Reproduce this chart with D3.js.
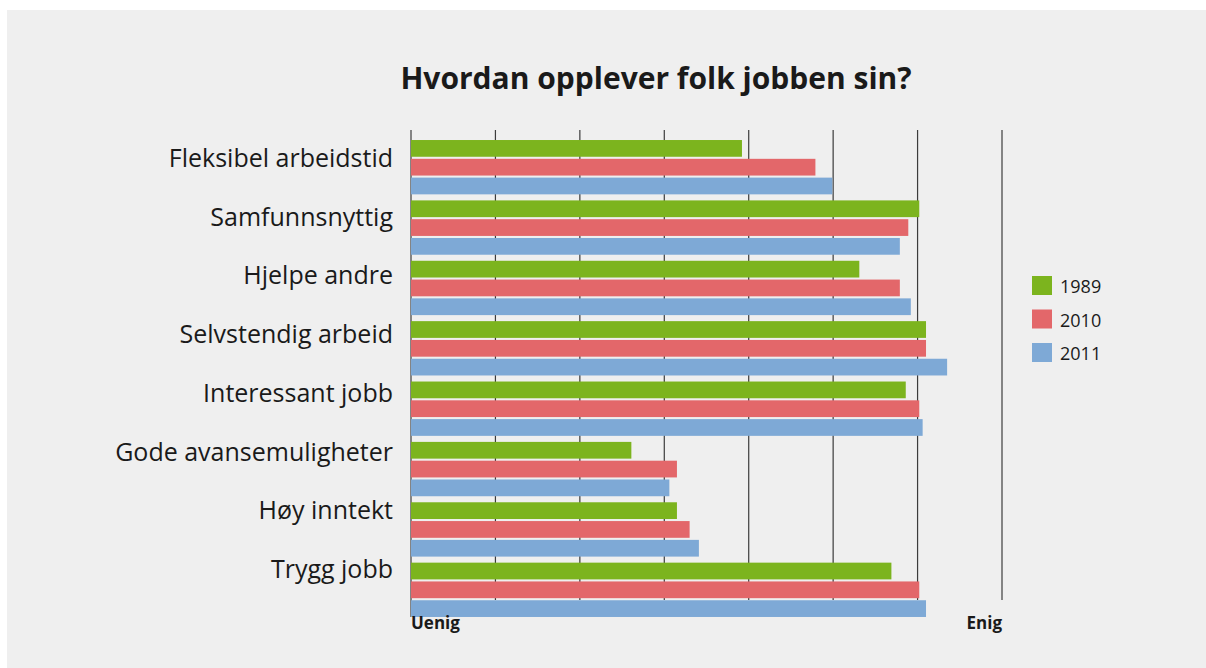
<!DOCTYPE html>
<html>
<head>
<meta charset="utf-8">
<script src="https://cdn.jsdelivr.net/npm/d3@7"></script>
<style>
	html, body { margin: 0; padding: 0; background: #fff; }
	svg { display: block; }
</style>
</head>
<body>
<svg id="chart" width="1206" height="668"></svg>
<script>
// Categories (top to bottom) and series
const categories = ['Fleksibel arbeidstid', 'Samfunnsnyttig', 'Hjelpe andre', 'Selvstendig arbeid',
	'Interessant jobb', 'Gode avansemuligheter', 'Høy inntekt', 'Trygg jobb'];
const years = ['1989', '2010', '2011'];

// values, scale 0 (Uenig) .. 7 (Enig)
const values1989 = [3.92, 6.02, 5.31, 6.10, 5.86, 2.61, 3.15, 5.69];
const values2010 = [4.79, 5.89, 5.79, 6.10, 6.02, 3.15, 3.30, 6.02];
const values2011 = [4.99, 5.79, 5.92, 6.35, 6.06, 3.06, 3.41, 6.10];

const gridTicks = [0, 1, 2, 3, 4, 5, 6, 7];
const colors = ['#7cb41e', '#e3676a', '#7ea9d6'];

const svg = d3.select('#chart');

// gray panel
svg.append('rect')
	.attr('x', 7).attr('y', 10)
	.attr('width', 1199).attr('height', 658)
	.attr('fill', '#efefef');

const x = d3.scaleLinear().domain([0, 7]).range([411, 1002]);
const y = d3.scaleBand().domain(categories).range([137, 620]).paddingInner(0.1).paddingOuter(0.05);
const ySub = d3.scaleBand().domain(years).range([0, y.bandwidth()]).paddingInner(0.11);
const yLabel = d3.scalePoint().domain(categories).range([167, 578]);
const color = d3.scaleOrdinal().domain(years).range(colors);

const rows = categories.map((c, i) => ({
	cat: c,
	vals: [values1989[i], values2010[i], values2011[i]]
}));

// title
svg.append('text')
	.attr('x', 656).attr('y', 89)
	.attr('text-anchor', 'middle')
	.attr('font-family', 'Open Sans, sans-serif')
	.attr('font-weight', 'bold')
	.attr('font-size', 30)
	.attr('fill', '#1a1a1a')
	.text('Hvordan opplever folk jobben sin?');

// gridlines
svg.append('g')
	.selectAll('line')
	.data(gridTicks)
	.join('line')
	.attr('x1', d => x(d)).attr('x2', d => x(d))
	.attr('y1', 130).attr('y2', d => d === 0 ? 617 : 600)
	.attr('stroke', '#3c3c3c')
	.attr('stroke-width', 1.2);

// bars
const groups = svg.append('g')
	.selectAll('g')
	.data(rows)
	.join('g')
	.attr('transform', d => `translate(0,${y(d.cat)})`);

groups.selectAll('rect')
	.data(d => d.vals.map((v, i) => ({ year: years[i], value: v })))
	.join('rect')
	.attr('x', x(0))
	.attr('y', d => ySub(d.year))
	.attr('width', d => x(d.value) - x(0))
	.attr('height', ySub.bandwidth())
	.attr('fill', d => color(d.year));

// category labels
svg.append('g')
	.selectAll('text')
	.data(categories)
	.join('text')
	.attr('x', 393)
	.attr('y', d => yLabel(d))
	.attr('text-anchor', 'end')
	.attr('font-family', 'Open Sans, sans-serif')
	.attr('font-size', 25)
	.attr('fill', '#1a1a1a')
	.text(d => d);

// axis end labels
svg.append('text')
	.attr('x', x(0)).attr('y', 629)
	.attr('font-family', 'Open Sans, sans-serif')
	.attr('font-weight', 'bold')
	.attr('font-size', 17)
	.attr('fill', '#1a1a1a')
	.text('Uenig');
svg.append('text')
	.attr('x', x(7)).attr('y', 629)
	.attr('text-anchor', 'end')
	.attr('font-family', 'Open Sans, sans-serif')
	.attr('font-weight', 'bold')
	.attr('font-size', 17)
	.attr('fill', '#1a1a1a')
	.text('Enig');

// legend
const legend = svg.append('g')
	.selectAll('g')
	.data(years)
	.join('g')
	.attr('transform', (d, i) => `translate(1032,${276 + i * 33.5})`);
legend.append('rect')
	.attr('width', 20).attr('height', 19)
	.attr('fill', d => color(d));
legend.append('text')
	.attr('x', 28).attr('y', 17)
	.attr('font-family', 'Open Sans, sans-serif')
	.attr('font-size', 18)
	.attr('fill', '#1a1a1a')
	.text(d => d);
</script>
</body>
</html>
